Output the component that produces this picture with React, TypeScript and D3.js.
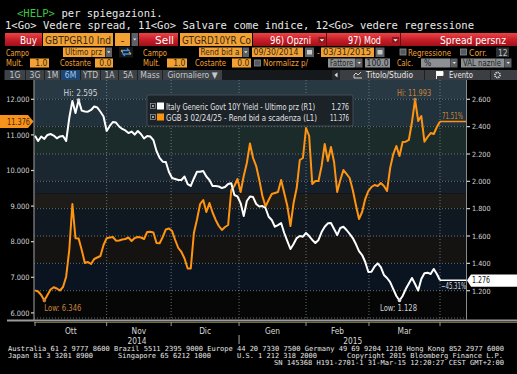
import React from 'react';
import * as d3 from 'd3';

const W = 517;
const H = 374;

// one value per trading day, 30/09/2014 .. 31/03/2015
// R1: Italy Generic Govt 10Y Yield - Ultimo prz
const italyYield = [
  2.333, 2.295, 2.328, 2.310, 2.339, 2.346, 2.335, 2.315, 2.328, 2.332,
  2.295, 2.463, 2.588, 2.500, 2.595, 2.517, 2.511, 2.509, 2.522, 2.547,
  2.540, 2.509, 2.474, 2.368, 2.405, 2.434, 2.430, 2.401, 2.383, 2.372,
  2.353, 2.364, 2.342, 2.368, 2.346, 2.313, 2.332, 2.328, 2.302, 2.222,
  2.171, 2.144, 2.141, 2.068, 2.024, 2.017, 2.010, 2.010, 2.035, 1.980,
  1.966, 2.021, 2.070, 2.070, 2.075, 2.035, 2.010, 1.966, 1.966, 1.962,
  1.951, 1.958, 1.980, 1.986, 1.900, 1.889, 1.841, 1.746, 1.856, 1.889,
  1.885, 1.834, 1.816, 1.819, 1.805, 1.741, 1.717, 1.668, 1.680, 1.695,
  1.622, 1.563, 1.505, 1.541, 1.585, 1.600, 1.595, 1.622, 1.600, 1.571,
  1.549, 1.571, 1.629, 1.668, 1.693, 1.695, 1.651, 1.607, 1.659, 1.668,
  1.644, 1.615, 1.585, 1.541, 1.490, 1.461, 1.410, 1.337, 1.339, 1.377,
  1.400, 1.373, 1.315, 1.293, 1.263, 1.212, 1.161, 1.128, 1.161, 1.212,
  1.253, 1.293, 1.249, 1.201, 1.285, 1.327, 1.332, 1.322, 1.359, 1.322,
  1.276,
];

// L1: GGB 3 02/24/25 - Rend bid a scadenza
const ggbYield = [
  6.633, 6.601, 6.503, 6.346, 6.503, 6.657, 6.719, 6.685, 6.629, 6.728,
  7.017, 7.767, 9.059, 8.096, 8.090, 7.767, 7.402, 7.430, 7.374, 7.514,
  7.556, 7.598, 7.907, 8.096, 8.118, 8.132, 8.028, 8.034, 8.062, 8.076,
  8.118, 8.020, 8.104, 8.132, 8.118, 8.076, 8.272, 8.281, 8.258, 7.963,
  7.955, 8.132, 8.343, 8.371, 8.301, 8.048, 7.823, 7.711, 7.528, 7.247,
  7.247, 8.244, 8.624, 9.059, 9.171, 8.834, 9.087, 8.820, 8.610, 8.441,
  8.329, 8.413, 8.469, 9.452, 9.565, 9.761, 9.396, 9.846, 10.211, 10.758,
  10.351, 10.126, 9.733, 9.284, 8.989, 9.171, 9.340, 9.368, 9.396, 9.733,
  9.368, 9.003, 8.441, 9.087, 9.508, 10.295, 10.351, 11.194, 10.969, 9.621,
  9.705, 9.705, 10.126, 10.744, 10.267, 10.660, 10.239, 9.396, 9.733, 10.014,
  9.902, 9.789, 9.452, 9.031, 8.638, 8.834, 9.199, 9.424, 9.536, 9.593,
  9.565, 9.649, 9.565, 9.424, 10.070, 10.463, 10.688, 10.407, 10.801, 10.809,
  10.857, 11.362, 11.993, 11.390, 11.531, 10.809, 10.941, 11.053, 11.025, 11.222,
  11.376,
];

const seriesNames = [
  'Italy Generic Govt 10Y Yield - Ultimo prz (R1)',
  'GGB 3 02/24/25 - Rend bid a scadenza (L1)',
];
const monthStarts = [0, 23, 43.7, 65.5, 87, 107.2, 130];
const monthLabels = ['Ott', 'Nov', 'Dic', 'Gen', 'Feb', 'Mar'];
const yearLabels = ['2014', '2015'];
const leftTicks = [6, 7, 8, 9, 10, 11, 12];
const rightTicks = [1.2, 1.4, 1.6, 1.8, 2.0, 2.2, 2.4, 2.6];
const gridLevels = [1.0, 1.2, 1.4, 1.6, 1.8, 2.0, 2.2, 2.4, 2.6];
const tabs = ['1G', '3G', '1M', '6M', 'YTD', '1A', '5A', 'Mass', 'Giornaliero \u25BC'];
const footer1 = 'Australia 61 2 9777 8600 Brazil 5511 2395 9000 Europe 44 20 7330 7500 Germany 49 69 9204 1210 Hong Kong 852 2977 6000';
const footer2 = ['Japan 81 3 3201 8900', 'Singapore 65 6212 1000', 'U.S. 1 212 318 2000', 'Copyright 2015 Bloomberg Finance L.P.'];
const footer3 = 'SN 145368 H191-2701-1 31-Mar-15 12:20:27 CEST GMT+2:00';

const MONO = "'DejaVu Sans Mono', 'Liberation Mono', monospace";
const SANS = "'Liberation Sans Narrow', 'DejaVu Sans Condensed', 'Liberation Sans', Arial, sans-serif";
const ORANGE = '#ff9410';
const DIMOR = '#c8843a';
const FIELD = '#f2a235';
const FTXT = '#3a2810';

function Txt({ x, y, children, size = 8.5, fill = '#fff', anchor = 'start', w, family = SANS }: any) {
  return (
    <text x={x} y={y} fontSize={size} fill={fill} textAnchor={anchor} fontFamily={family}
      textLength={w} lengthAdjust={w ? 'spacingAndGlyphs' : undefined}>{children}</text>
  );
}

function Field({ x, y, w, h, label, tx, tw, anchor = 'start', size = 8.5 }: any) {
  return (
    <g>
      <rect x={x} y={y} width={w} height={h} fill={FIELD} />
      <Txt x={tx} y={y + h - 2} size={size} fill={FTXT} w={tw} anchor={anchor}>{label}</Txt>
    </g>
  );
}

function Grey({ x, y, w, h, label, tx, tw, anchor = 'start' }: any) {
  return (
    <g>
      <rect x={x} y={y} width={w} height={h} fill="#8d9195" />
      {label && <Txt x={tx} y={y + h - 2} size={8.5} fill="#1c1c1c" w={tw} anchor={anchor}>{label}</Txt>}
    </g>
  );
}

function Drop({ x, y, h }: any) {
  return (
    <g>
      <rect x={x} y={y} width={6.5} height={h} fill="#5d6165" />
      <path d={`M${x + 1.5},${y + h / 2 - 1}h3.5l-1.75,2z`} fill="#e0e0e0" />
    </g>
  );
}

function Check({ x, y }: any) {
  return <rect x={x + 0.5} y={y + 0.5} width={6} height={6} fill="#55595d" stroke="#8a8e92" strokeWidth={0.8} />;
}

export default function App() {
  const plot = { left: 34, right: 466.5, top: 80, bottom: 319 };
  const n = italyYield.length;
  const x = d3.scaleLinear().domain([0, n - 1]).range([35, 440]);
  const yL = d3.scaleLinear().domain([6, 12]).range([312.9, 99.3]);
  const yR = d3.scaleLinear().domain([1.2, 2.6]).range([290.7, 99.3]);
  const f3 = d3.format('.3f');

  const bands: [number, number, string][] = [
    [2.8, 2.6, '#283943'], [2.6, 2.4, '#22323c'], [2.4, 2.2, '#1b2b29'], [2.2, 2.0, '#1a2630'],
    [2.0, 1.91, '#151f29'], [1.91, 1.8, '#1d1c18'], [1.8, 1.6, '#0f1820'], [1.6, 1.4, '#141312'],
    [1.4, 1.2, '#0a1320'], [1.2, 0.9, '#060606'],
  ];

  const lineR = d3.line<number>().x((_, i) => x(i)).y(d => yR(d));
  const lineL = d3.line<number>().x((_, i) => x(i)).y(d => yL(d));

  const wLast = italyYield[n - 1];
  const oLast = ggbYield[n - 1];
  const wHi = d3.maxIndex(italyYield);
  const wLo = d3.minIndex(italyYield);
  const oHi = d3.maxIndex(ggbYield);
  const oLo = d3.minIndex(ggbYield);
  const pct = d3.format('.2f');
  const wChg = pct((wLast / italyYield[0] - 1) * 100) + '%';
  const oChg = pct((oLast / ggbYield[0] - 1) * 100) + '%';

  const tabEdges = [[5, 25], [26, 44], [45, 60], [61, 80], [81, 100], [101, 118], [119, 137], [138, 162], [163, 222]];

  return (
    <svg width={W} height={H} style={{ position: 'absolute', left: 0, top: 0, display: 'block' }}>
      <defs>
        <linearGradient id="red" x1="0" y1="0" x2="0" y2="1">
          <stop offset="0" stopColor="#ec4446" />
          <stop offset="0.5" stopColor="#c8202a" />
          <stop offset="1" stopColor="#a01018" />
        </linearGradient>
        <clipPath id="plotclip">
          <rect x={plot.left} y={plot.top} width={plot.right - plot.left} height={plot.bottom - plot.top} />
        </clipPath>
      </defs>
      <rect width={W} height={H} fill="#000" />

      {/* command lines */}
      <Txt x={17} y={16.5} size={10.5} family={MONO} fill="#3ec63e">{'<HELP>'}</Txt>
      <Txt x={61.5} y={16.5} size={10.5} family={MONO} fill="#e8e8e8">per spiegazioni.</Txt>
      <Txt x={5} y={28.5} size={10.5} family={MONO} fill="#e8e8e8" w={469}>
        1&lt;Go&gt; Vedere spread, 11&lt;Go&gt; Salvare come indice, 12&lt;Go&gt; vedere regressione
      </Txt>

      {/* button row */}
      <rect x={5} y={33} width={37} height={13} fill="url(#red)" />
      <Txt x={37} y={43.5} size={11} anchor="end" w={17}>Buy</Txt>
      <Field x={43} y={33} w={70} h={13} label="GBTPGR10 Ind" tx={45} tw={66} size={11} />
      <Field x={115} y={33} w={15} h={13} label="-" tx={122.5} anchor="middle" size={11} />
      <Drop x={131.5} y={33} h={13} />
      <rect x={139} y={33} width={39} height={13} fill="url(#red)" />
      <Txt x={174} y={43.5} size={11} anchor="end" w={19}>Sell</Txt>
      <Field x={180} y={33} w={72} h={13} label="GTGRD10YR Co" tx={182} tw={69} size={11} />
      <rect x={253} y={33} width={264} height={13} fill="url(#red)" />
      <line x1={326.5} y1={33} x2={326.5} y2={46} stroke="#6a0a0e" />
      <line x1={400.5} y1={33} x2={400.5} y2={46} stroke="#6a0a0e" />
      <Txt x={270} y={43.5} size={11} w={41}>96) Opzni</Txt>
      <rect x={318.5} y={37} width={7} height={6} fill="#8a1a1e" />
      <path d="M319.8,39.3h4.4l-2.2,2.2z" fill="#fff" />
      <Txt x={348} y={43.5} size={11} w={33}>97) Mod</Txt>
      <rect x={392} y={37} width={7} height={6} fill="#8a1a1e" />
      <path d="M393.3,39.3h4.4l-2.2,2.2z" fill="#fff" />
      <Txt x={506} y={43.5} size={11} anchor="end" w={66}>Spread persnz</Txt>

      {/* field row 1 */}
      <Txt x={6} y={55.5} fill={FIELD} w={23}>Campo</Txt>
      <Field x={63} y={47.5} w={42} h={9.5} label="Ultimo prz" tx={65} tw={37} />
      <Drop x={105.5} y={47.5} h={9.5} />
      <rect x={119} y={47} width={14} height={10.5} fill="#15181b" />
      <path d="M121,50.5h8l-2,-2M131,54h-8l2,2" stroke="#3d8de0" strokeWidth={1.3} fill="none" />
      <path d="M121,50.5l2,2M131,54l-2,-2" stroke="#f39a1c" strokeWidth={1.3} fill="none" />
      <Txt x={143} y={55.5} fill={FIELD} w={24}>Campo</Txt>
      <Field x={199} y={47.5} w={43} h={9.5} label="Rend bid a" tx={200.5} tw={39} />
      <Drop x={242.5} y={47.5} h={9.5} />
      <Field x={252} y={47.5} w={51} h={9.5} label="09/30/2014" tx={253.5} tw={45} />
      <rect x={305} y={47.5} width={9} height={9.5} fill="#5d6165" />
      <rect x={307} y={50} width={5} height={4.5} fill="#c8c8c8" />
      <Txt x={317} y={55.5} fill={FIELD}>-</Txt>
      <Field x={321} y={47.5} w={53} h={9.5} label="03/31/2015" tx={323} tw={48} />
      <rect x={375.5} y={47.5} width={9} height={9.5} fill="#5d6165" />
      <rect x={377.5} y={50} width={5} height={4.5} fill="#c8c8c8" />
      <Check x={399.5} y={48.5} />
      <Txt x={408} y={55.5} fill={FIELD} w={43}>Regressione</Txt>
      <Check x={460} y={48.5} />
      <Txt x={469} y={55.5} fill={FIELD} w={18}>Corr.</Txt>
      <rect x={496} y={47.5} width={13} height={9.5} fill="#2c3034" />
      <Txt x={498} y={55.5} fill="#c0c0c0">12</Txt>

      {/* field row 2 */}
      <Txt x={6} y={66} fill={FIELD} w={17}>Mult.</Txt>
      <Field x={30} y={58.5} w={19} h={9} label="1.0" tx={47.5} anchor="end" />
      <Txt x={60} y={66} fill={FIELD} w={31}>Costante</Txt>
      <Field x={95} y={58.5} w={18} h={9} label="0.0" tx={111.5} anchor="end" />
      <Txt x={143} y={66} fill={FIELD} w={17}>Mult.</Txt>
      <Field x={167} y={58.5} w={20} h={9} label="1.0" tx={185.5} anchor="end" />
      <Txt x={195} y={66} fill={FIELD} w={31}>Costante</Txt>
      <Field x={232} y={58.5} w={19} h={9} label="0.0" tx={249.5} anchor="end" />
      <Check x={254} y={59.5} />
      <Txt x={263} y={66} fill={FIELD} w={45}>Normalizz p/</Txt>
      <Grey x={328} y={58.5} w={27.5} h={9} label="Fattore" tx={330} tw={23} />
      <Drop x={356} y={58.5} h={9} />
      <Grey x={365} y={58.5} w={25} h={9} label="100.0" tx={388.5} anchor="end" />
      <Txt x={397} y={66} fill={FIELD} w={16}>Calc.</Txt>
      <Grey x={421} y={58.5} w={29.5} h={9} label="%" tx={424} />
      <Drop x={451} y={58.5} h={9} />
      <Grey x={461} y={58.5} w={43.5} h={9} label="VAL naznle" tx={463} tw={38} />
      <Drop x={505} y={58.5} h={9} />

      {/* tab row */}
      <rect x={4} y={70} width={218} height={10} fill="#1e2226" />
      {tabs.map((t, i) => {
        const [a, b] = tabEdges[i];
        const active = t === '6M';
        return (
          <g key={t}>
            <rect x={a} y={70} width={b - a} height={10} fill={active ? '#1f4670' : '#3d4247'} />
            <Txt x={(a + b) / 2} y={78} size={8.5} anchor="middle" fill={active ? '#9cc6f2' : '#c4c8cc'}>{t}</Txt>
          </g>
        );
      })}
      <rect x={222} y={70} width={110} height={10} fill="#16191c" />
      <rect x={332} y={70} width={185} height={10} fill="#3b3f43" />
      <rect x={332} y={70} width={8} height={10} fill="#25292c" />
      <path d="M337.5,72.5v5l-3,-2.5z" fill="#ddd" />
      <path d="M354,78v-3l2,-2l2,2l3,-3M354,78h8" stroke="#e0e0e0" strokeWidth={0.9} fill="none" />
      <Txt x={366} y={78} size={8.5} fill="#e6e6e6" w={47}>Titolo/Studio</Txt>
      <line x1={424.5} y1={70} x2={424.5} y2={80} stroke="#1e2124" />
      <path d="M436.5,79v-8M437,71.5h6v4h-6z" stroke="#fff" fill="#fff" strokeWidth={0.9} />
      <Txt x={449} y={78} size={8.5} fill="#e6e6e6" w={24}>Evento</Txt>
      <line x1={490.5} y1={70} x2={490.5} y2={80} stroke="#1e2124" />
      <circle cx={497.5} cy={75} r={2.6} fill="none" stroke="#e0e0e0" strokeWidth={1.6} strokeDasharray="1.2,0.8" />

      {/* plot background */}
      <g clipPath="url(#plotclip)">
        {bands.map(([a, b, c], i) => (
          <rect key={i} x={plot.left} y={yR(a)} width={plot.right - plot.left} height={yR(b) - yR(a)} fill={c} />
        ))}
        {gridLevels.map(v => (
          <line key={v} x1={plot.left} x2={plot.right} y1={yR(v)} y2={yR(v)} stroke="#7c8a92" strokeWidth={0.8} strokeDasharray="1,2" />
        ))}
        {monthStarts.slice(1).map(m => (
          <line key={m} x1={x(m)} x2={x(m)} y1={plot.top} y2={plot.bottom} stroke="#7c8a92" strokeWidth={0.8} strokeDasharray="1,2" />
        ))}
      </g>

      {/* axes */}
      <line x1={plot.left} x2={plot.left} y1={plot.top} y2={plot.bottom + 1} stroke="#8a8a8a" strokeWidth={1.2} />
      <line x1={plot.right} x2={plot.right} y1={plot.top} y2={plot.bottom + 1} stroke="#8a8a8a" strokeWidth={1} />
      <rect x={7} y={319.5} width={W - 7} height={2} fill="#9a9a9a" />
      <rect x={plot.left} y={322} width={W - plot.left} height={1} fill="#6e6a34" />
      {leftTicks.map(v => (
        <g key={v}>
          <line x1={31} x2={34} y1={yL(v)} y2={yL(v)} stroke="#d0d0d0" strokeWidth={1.2} />
          <Txt x={29.5} y={yL(v) + 2.6} size={7.4} anchor="end" fill="#d4d4d4">{f3(v)}</Txt>
        </g>
      ))}
      {rightTicks.map(v => (
        <g key={v}>
          <line x1={466.5} x2={470} y1={yR(v)} y2={yR(v)} stroke="#d0d0d0" strokeWidth={1.2} />
          <Txt x={472} y={yR(v) + 2.8} size={7.2} fill="#d4d4d4">{f3(v)}</Txt>
        </g>
      ))}
      {monthStarts.map(m => (
        <line key={m} x1={x(m)} x2={x(m)} y1={322} y2={326} stroke="#9a9a9a" />
      ))}
      {monthLabels.map((l, i) => (
        <Txt key={l} x={(x(monthStarts[i]) + x(monthStarts[i + 1])) / 2} y={333.5} size={8.3} anchor="middle" fill="#d8d8d8">{l}</Txt>
      ))}
      <Txt x={(x(monthStarts[0]) + x(monthStarts[3])) / 2} y={343.5} size={8.3} anchor="middle" fill="#d8d8d8">{yearLabels[0]}</Txt>
      <Txt x={(x(monthStarts[3]) + plot.right) / 2} y={343.5} size={8.3} anchor="middle" fill="#d8d8d8">{yearLabels[1]}</Txt>
      <line x1={x(monthStarts[3])} x2={x(monthStarts[3])} y1={335} y2={344} stroke="#aaa" />

      {/* series */}
      <g clipPath="url(#plotclip)">
        <line x1={x(n - 1)} x2={plot.right} y1={yL(oLast)} y2={yL(oLast)} stroke={ORANGE} strokeWidth={1.6} />
        <line x1={x(n - 1)} x2={plot.right} y1={yR(wLast)} y2={yR(wLast)} stroke="#fff" strokeWidth={1.6} />
        <path d={lineL(ggbYield) || ''} fill="none" stroke={ORANGE} strokeWidth={2} strokeLinejoin="round" />
        <path d={lineR(italyYield) || ''} fill="none" stroke="#fff" strokeWidth={2} strokeLinejoin="round" />
        <circle cx={x(wHi)} cy={yR(italyYield[wHi])} r={1.8} fill="#ddd" />
        <circle cx={x(wLo)} cy={yR(italyYield[wLo])} r={1.8} fill="#ddd" />
        <circle cx={x(oHi)} cy={yL(ggbYield[oHi])} r={1.8} fill={DIMOR} />
        <circle cx={x(oLo)} cy={yL(ggbYield[oLo])} r={1.8} fill={DIMOR} />
      </g>

      {/* annotations */}
      <Txt x={x(wHi) + 2} y={yR(italyYield[wHi]) - 4} size={8.5} anchor="middle" fill="#d0d4d6" w={34}>{'Hi: ' + f3(italyYield[wHi])}</Txt>
      <Txt x={x(wLo) - 1} y={yR(italyYield[wLo]) + 10.5} size={8.5} anchor="middle" fill="#d0d4d6" w={37}>{'Low: ' + f3(italyYield[wLo])}</Txt>
      <Txt x={x(oHi) - 1} y={yL(ggbYield[oHi]) - 3.5} size={8.5} anchor="middle" fill={DIMOR} w={34}>{'Hi: ' + f3(ggbYield[oHi])}</Txt>
      <Txt x={x(oLo)} y={yL(ggbYield[oLo]) + 10} size={8.5} fill={DIMOR} w={37}>{'Low: ' + f3(ggbYield[oLo])}</Txt>
      <Txt x={463} y={yL(oLast) - 2.5} size={8.5} anchor="end" fill={DIMOR} w={21}>{oChg}</Txt>
      <Txt x={466} y={yR(wLast) + 8.8} size={8.5} anchor="end" fill="#d8d8d8" w={25}>{wChg}</Txt>

      {/* last value boxes */}
      <path d={`M0,${yL(oLast) - 6.5}H28L33.5,${yL(oLast)}L28,${yL(oLast) + 6.5}H0Z`} fill="#f7921c" />
      <Txt x={30} y={yL(oLast) + 3.3} size={9} anchor="end" fill="#4a2600" w={23}>{f3(oLast)}</Txt>
      <path d={`M467,${yR(wLast)}L471,${yR(wLast) - 5.8}H517V${yR(wLast) + 6.4}H471Z`} fill="#fff" />
      <Txt x={472} y={yR(wLast) + 3} size={8.6} fill="#111" w={18}>{f3(wLast)}</Txt>

      {/* legend */}
      <rect x={147} y={95} width={206} height={31} rx={2} fill="#1b2127" fillOpacity={0.93} stroke="#4c545a" strokeWidth={0.8} />
      {seriesNames.map((s, i) => {
        const yy = 102.5 + i * 11;
        const val = i === 0 ? wLast : oLast;
        return (
          <g key={s}>
            <rect x={150.5} y={yy + 1} width={5} height={5} fill="none" stroke="#a0a0a0" strokeWidth={0.7} />
            <rect x={152} y={yy + 2.5} width={2} height={2} fill="#a0a0a0" />
            <rect x={157} y={yy} width={7} height={7} fill={i === 0 ? '#fff' : ORANGE} />
            <Txt x={166} y={yy + 7} size={8.2} fill="#e4e4e4" w={i === 0 ? 149 : 151}>{s}</Txt>
            <Txt x={349} y={yy + 7} size={8.2} anchor="end" fill="#e4e4e4" w={i === 0 ? 17.5 : 19}>{f3(val)}</Txt>
          </g>
        );
      })}

      {/* footer */}
      <Txt x={8} y={351} size={7} family={MONO} fill="#e6e6e6" w={496}>{footer1}</Txt>
      <Txt x={8} y={358} size={7} family={MONO} fill="#e6e6e6" w={85}>{footer2[0]}</Txt>
      <Txt x={118} y={358} size={7} family={MONO} fill="#e6e6e6" w={93}>{footer2[1]}</Txt>
      <Txt x={237} y={358} size={7} family={MONO} fill="#e6e6e6" w={80}>{footer2[2]}</Txt>
      <Txt x={347} y={358} size={7} family={MONO} fill="#e6e6e6" w={156}>{footer2[3]}</Txt>
      <Txt x={274} y={365} size={7} family={MONO} fill="#e6e6e6" w={230}>{footer3}</Txt>
    </svg>
  );
}
